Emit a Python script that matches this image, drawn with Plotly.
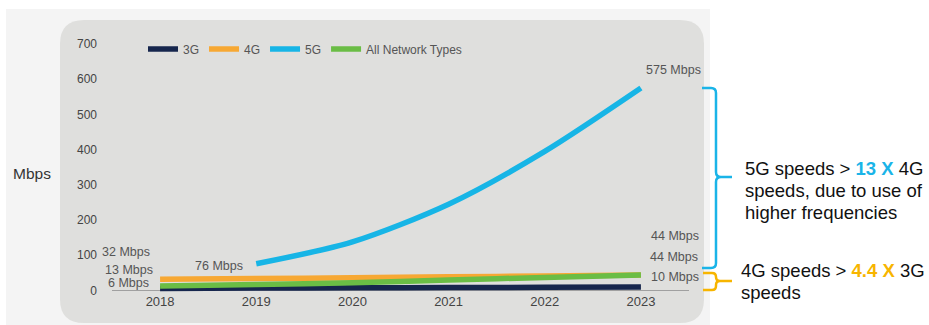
import plotly.graph_objects as go

# Mobile connection speeds by network type (Mbps)
years = [2018, 2019, 2020, 2021, 2022, 2023]
speed_3g = [6, 7, 7.5, 8.5, 9, 10]
speed_4g = [32, 34, 36, 39, 41, 44]
speed_5g = [None, 76, 138, 245, 395, 575]
speed_all = [13, 17, 22, 30, 37, 44]

series_names = ["3G", "4G", "5G", "All Network Types"]
series_colors = ["#16264d", "#f7a833", "#17b5e6", "#6abd45"]
y_ticks = [0, 100, 200, 300, 400, 500, 600, 700]

W, H = 929, 325
L, R, T, B = 112, 929 - 689, 37, 325 - 292
PW, PH = W - L - R, H - T - B

FONT = "Liberation Sans, Arial, Helvetica, sans-serif"


def px(x):
    return (x - L) / PW


def py(y):
    return (H - B - y) / PH


def path(cmds):
    out = []
    for c, *pts in cmds:
        s = c
        for (x, y) in pts:
            s += f" {px(x):.5f},{py(y):.5f}"
        out.append(s)
    return " ".join(out)


def rounded_rect(x0, y0, x1, y1, r):
    return path([
        ("M", (x0 + r, y0)), ("L", (x1 - r, y0)), ("Q", (x1, y0), (x1, y0 + r)),
        ("L", (x1, y1 - r)), ("Q", (x1, y1), (x1 - r, y1)),
        ("L", (x0 + r, y1)), ("Q", (x0, y1), (x0, y1 - r)),
        ("L", (x0, y0 + r)), ("Q", (x0, y0), (x0 + r, y0)),
    ]) + " Z"


def brace(xl, xv, xt, ytop, ymid, ybot, r):
    return path([
        ("M", (xl, ytop)), ("L", (xv - r, ytop)), ("Q", (xv, ytop), (xv, ytop + r)),
        ("L", (xv, ymid - r)), ("Q", (xv, ymid), (xv + r, ymid)), ("L", (xt, ymid)),
        ("M", (xv + r, ymid)), ("Q", (xv, ymid), (xv, ymid + r)),
        ("L", (xv, ybot - r)), ("Q", (xv, ybot), (xv - r, ybot)), ("L", (xl, ybot)),
    ])


fig = go.Figure()
for name, vals, col in zip(series_names, [speed_3g, speed_4g, speed_5g, speed_all], series_colors):
    fig.add_trace(go.Scatter(
        x=years, y=vals, name=name, mode="lines",
        line=dict(color=col, width=5.5, shape="spline", smoothing=0.8),
        connectgaps=False, hoverinfo="skip",
    ))

shapes = [
    dict(type="rect", xref="paper", yref="paper", x0=px(6), x1=px(710), y0=py(9), y1=py(325),
         fillcolor="#f4f4f4", line=dict(width=0), layer="below"),
    dict(type="path", xref="paper", yref="paper", path=rounded_rect(60, 20, 704, 323, 24),
         fillcolor="#dfdfdd", line=dict(width=0), layer="below"),
    dict(type="path", xref="paper", yref="paper", path=brace(702, 716, 732, 88, 177, 268, 5),
         line=dict(color="#1ab4e8", width=2.5)),
    dict(type="path", xref="paper", yref="paper", path=brace(703, 716, 732, 273, 281, 290, 4),
         line=dict(color="#f7b500", width=2.5)),
]

lab_font = dict(family=FONT, size=12.5, color="#555555")


def mbps(v):
    return f"{v:g} Mbps"


annotations = [
    # starting values
    dict(x=years[0], y=speed_4g[0], text=mbps(speed_4g[0]), xanchor="right", xshift=-8, yshift=27),
    dict(x=years[0], y=speed_all[0], text=mbps(speed_all[0]), xanchor="right", xshift=-5, yshift=16),
    dict(x=years[0], y=speed_3g[0], text=mbps(speed_3g[0]), xanchor="right", xshift=-9, yshift=5),
    dict(x=years[1], y=speed_5g[1], text=mbps(speed_5g[1]), xanchor="right", xshift=-11, yshift=-2),
    # ending values
    dict(x=years[-1], y=speed_5g[-1], text=mbps(speed_5g[-1]), xanchor="left", xshift=3, yshift=18),
    dict(x=years[-1], y=speed_4g[-1], text=mbps(speed_4g[-1]), xanchor="left", xshift=8, yshift=39),
    dict(x=years[-1], y=speed_all[-1], text=mbps(speed_all[-1]), xanchor="left", xshift=7, yshift=18),
    dict(x=years[-1], y=speed_3g[-1], text=mbps(speed_3g[-1]), xanchor="left", xshift=8, yshift=10),
]
for a in annotations:
    a.update(xref="x", yref="y", showarrow=False, yanchor="middle", font=lab_font)

note_font = dict(family=FONT, size=18.5, color="#111111")
note_lines = [
    (743, 168, "5G speeds &gt; <b><span style='color:#1ab4e8'>13 X</span></b> 4G"),
    (743, 190, "speeds, due to use of"),
    (743, 212, "higher frequencies"),
    (739, 270, "4G speeds &gt; <b><span style='color:#f7b500'>4.4 X</span></b> 3G"),
    (739, 292, "speeds"),
]
for x, y, t in note_lines:
    annotations.append(dict(xref="paper", yref="paper", x=px(x), y=py(y), text=t, showarrow=False,
                            xanchor="left", yanchor="middle", font=note_font))

annotations.append(dict(xref="paper", yref="paper", x=px(11), y=py(173), text="Mbps", showarrow=False,
                        xanchor="left", yanchor="middle",
                        font=dict(family=FONT, size=15.5, color="#333333")))

fig.update_layout(
    width=W, height=H,
    margin=dict(l=L, r=R, t=T, b=B, pad=0),
    paper_bgcolor="#ffffff",
    plot_bgcolor="rgba(0,0,0,0)",
    font=dict(family=FONT, color="#444444"),
    shapes=shapes,
    annotations=annotations,
    showlegend=True,
    legend=dict(
        orientation="h", x=px(143), y=py(49), xanchor="left", yanchor="middle",
        bgcolor="rgba(0,0,0,0)", font=dict(family=FONT, size=12, color="#555555"),
        itemwidth=30, traceorder="normal",
    ),
    xaxis=dict(
        range=[2017.5, 2023.5], tickvals=years, ticktext=[str(y) for y in years],
        showgrid=False, zeroline=False, showline=False, ticks="",
        tickfont=dict(family=FONT, size=13, color="#444444"), fixedrange=True,
    ),
    yaxis=dict(
        range=[-4.26, 720], tickvals=y_ticks, showgrid=False,
        zeroline=True, zerolinecolor="#a0a0a0", zerolinewidth=1,
        showline=False, ticks="", ticklabelstandoff=14,
        tickfont=dict(family=FONT, size=12, color="#444444"), fixedrange=True,
    ),
)

fig.write_html("out.html")
